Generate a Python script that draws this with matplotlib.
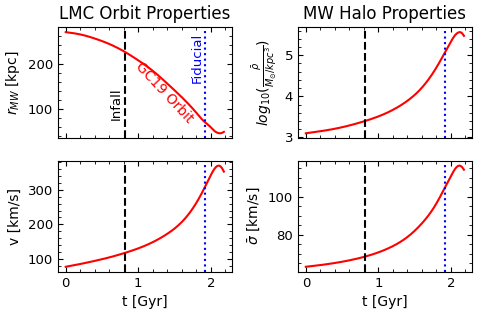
import numpy as np
import matplotlib
matplotlib.use("Agg")
import matplotlib.pyplot as plt

# values
t_gyr = [0.0, 0.2, 0.4, 0.6, 0.8, 1.0, 1.2, 1.4, 1.6, 1.8, 1.9, 2.0, 2.05, 2.1, 2.15, 2.18]
r_mw = [269, 264, 255, 243, 227, 207, 184, 156, 126, 92, 74, 60, 52, 47.5, 47.5, 50]
v_lmc = [78, 86, 95, 105, 117, 131, 149, 173, 207, 262, 300, 342, 360, 369, 363, 352]
log_rho = [3.10, 3.15, 3.21, 3.29, 3.39, 3.51, 3.67, 3.89, 4.21, 4.70, 5.01, 5.33, 5.47, 5.55, 5.54, 5.47]
sigma = [63.0, 63.9, 65.0, 66.4, 68.2, 70.6, 73.9, 78.7, 85.9, 96.4, 103.5, 110.8, 114.2, 116.2, 115.7, 114.2]

t_infall = 0.81
t_fiducial = 1.92


def spline(x, y, xs):
    # natural cubic spline through the read points
    x = np.asarray(x, float)
    y = np.asarray(y, float)
    n = len(x)
    h = np.diff(x)
    A = np.zeros((n, n))
    b = np.zeros(n)
    A[0, 0] = A[-1, -1] = 1
    for i in range(1, n - 1):
        A[i, i-1] = h[i-1]
        A[i, i] = 2*(h[i-1] + h[i])
        A[i, i+1] = h[i]
        b[i] = 6*((y[i+1] - y[i])/h[i] - (y[i] - y[i-1])/h[i-1])
    M = np.linalg.solve(A, b)
    k = np.clip(np.searchsorted(x, xs, side='right') - 1, 0, n - 2)
    dx = xs - x[k]
    hk = h[k]
    a = (M[k+1] - M[k])/(6*hk)
    c = (y[k+1] - y[k])/hk - hk*(2*M[k] + M[k+1])/6
    return y[k] + c*dx + M[k]/2*dx**2 + a*dx**3


tt = np.linspace(t_gyr[0], t_gyr[-1], 400)

plt.rcParams['font.size'] = 9.5
plt.rcParams['axes.labelsize'] = 10

fig, axes = plt.subplots(2, 2, figsize=(4.82, 3.15), dpi=100, sharex=True)
fig.subplots_adjust(left=0.120, right=0.979, top=0.914, bottom=0.137,
                    wspace=0.38, hspace=0.2)

panels = [
    (axes[0, 0], r_mw, r'$r_{MW}$ [kpc]'),
    (axes[0, 1], log_rho, r'$log_{10}(\frac{\bar{\rho}}{M_{\odot}/kpc^3})$'),
    (axes[1, 0], v_lmc, 'v [km/s]'),
    (axes[1, 1], sigma, r'$\bar{\sigma}$ [km/s]'),
]

for ax, vals, lab in panels:
    ax.plot(tt, spline(t_gyr, vals, tt), color='red', lw=1.5)
    ax.axvline(t_infall, color='black', ls='--', lw=1.5)
    ax.axvline(t_fiducial, color='blue', ls=':', lw=1.5)
    ax.set_ylabel(lab)
    ax.minorticks_on()
    ax.tick_params(which='both', direction='in', top=True, right=True)

axes[0, 0].set_title('LMC Orbit Properties', fontsize=12)
axes[0, 1].set_title('MW Halo Properties', fontsize=12)
axes[1, 0].set_xlabel('t [Gyr]')
axes[1, 1].set_xlabel('t [Gyr]')
axes[0, 0].set_yticks([100, 200])
axes[0, 1].set_yticks([3, 4, 5])
axes[1, 0].set_yticks([100, 200, 300])
axes[1, 1].set_yticks([80, 100])

ax = axes[0, 0]
ax.text(t_infall - 0.02, 75, 'Infall', rotation=90, ha='right', va='bottom')
ax.text(t_fiducial - 0.02, 158, 'Fiducial', rotation=90, ha='right', va='bottom',
        color='blue')
ax.text(1.36, 136, 'GC19 Orbit', rotation=-47, ha='center', va='center',
        color='red', fontsize=10)

fig.savefig('out.png', dpi=100)
